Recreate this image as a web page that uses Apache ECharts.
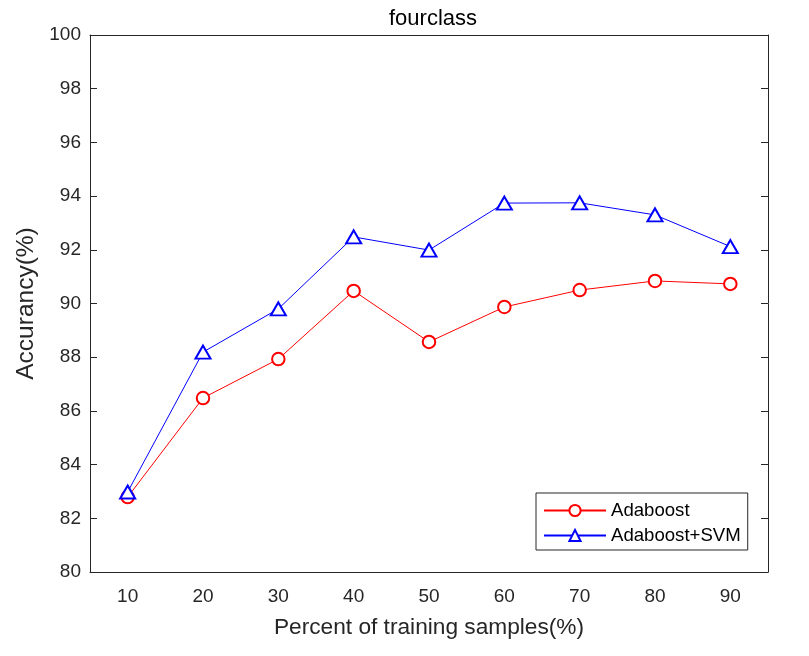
<!DOCTYPE html>
<html>
<head>
<meta charset="utf-8">
<script src="https://cdn.jsdelivr.net/npm/echarts@6/dist/echarts.min.js"></script>
<style>
  html, body { margin: 0; padding: 0; background: #fff; }
  #main { width: 809px; height: 656px; }
</style>
</head>
<body>
<div id="main"></div>
<script>
var categories = ['10', '20', '30', '40', '50', '60', '70', '80', '90'];
var adaboost = [82.79, 86.48, 87.93, 90.47, 88.57, 89.87, 90.50, 90.84, 90.73];
var adaboostSvm = [82.98, 88.19, 89.80, 92.48, 91.99, 93.74, 93.75, 93.30, 92.12];

var chart = echarts.init(document.getElementById('main'));
var axisColor = '#262626';
var font = 'Liberation Sans, Arial, sans-serif';

var option = {
  animation: false,
  title: {
    text: 'fourclass',
    left: 428,
    textAlign: 'center',
    top: 3,
    textStyle: { fontFamily: font, fontSize: 22, fontWeight: 'normal', color: '#000' }
  },
  grid: { left: 90, right: 41, top: 35, bottom: 84 },
  legend: {
    orient: 'vertical',
    left: 536,
    top: 493,
    padding: [8, 7, 5, 7],
    itemGap: 6,
    itemWidth: 62,
    itemHeight: 14,
    backgroundColor: '#fff',
    borderColor: axisColor,
    borderWidth: 1,
    borderRadius: 0,
    textStyle: { fontFamily: font, fontSize: 18.6, color: '#000' },
    data: ['Adaboost', 'Adaboost+SVM']
  },
  xAxis: [
    {
      type: 'category',
      data: categories,
      boundaryGap: true,
      name: 'Percent of training samples(%)',
      nameLocation: 'middle',
      nameGap: 44,
      nameTextStyle: { fontFamily: font, fontSize: 22.7, color: axisColor },
      axisLine: { lineStyle: { color: axisColor, width: 1 } },
      axisTick: { inside: true, alignWithLabel: true, length: 7, lineStyle: { color: axisColor } },
      axisLabel: { fontFamily: font, fontSize: 19, color: axisColor, margin: 15 },
      splitLine: { show: false }
    },
    {
      type: 'category',
      data: categories,
      position: 'top',
      boundaryGap: true,
      axisLine: { lineStyle: { color: axisColor, width: 1 } },
      axisTick: { inside: true, alignWithLabel: true, length: 7, lineStyle: { color: axisColor } },
      axisLabel: { show: false },
      splitLine: { show: false }
    }
  ],
  yAxis: [
    {
      type: 'value',
      min: 80,
      max: 100,
      interval: 2,
      name: 'Accurancy(%)',
      nameLocation: 'middle',
      nameGap: 50,
      nameTextStyle: { fontFamily: font, fontSize: 24.5, color: axisColor },
      axisLine: { show: true, lineStyle: { color: axisColor, width: 1 } },
      axisTick: { show: true, inside: true, length: 7, lineStyle: { color: axisColor } },
      axisLabel: { fontFamily: font, fontSize: 19, color: axisColor, margin: 9 },
      splitLine: { show: false }
    },
    {
      type: 'value',
      min: 80,
      max: 100,
      interval: 2,
      position: 'right',
      axisLine: { show: true, lineStyle: { color: axisColor, width: 1 } },
      axisTick: { show: true, inside: true, length: 7, lineStyle: { color: axisColor } },
      axisLabel: { show: false },
      splitLine: { show: false }
    }
  ],
  series: [
    {
      name: 'Adaboost',
      type: 'line',
      data: adaboost,
      symbol: 'emptyCircle',
      symbolSize: 12.5,
      color: '#ff0000',
      lineStyle: { color: '#ff0000', width: 1 },
      itemStyle: { color: '#ff0000', borderColor: '#ff0000', borderWidth: 1.5 }
    },
    {
      name: 'Adaboost+SVM',
      type: 'line',
      data: adaboostSvm,
      symbol: 'emptyTriangle',
      symbolSize: [15, 13],
      color: '#0000ff',
      lineStyle: { color: '#0000ff', width: 1 },
      itemStyle: { color: '#0000ff', borderColor: '#0000ff', borderWidth: 1.5 }
    }
  ]
};

chart.setOption(option);
</script>
</body>
</html>
